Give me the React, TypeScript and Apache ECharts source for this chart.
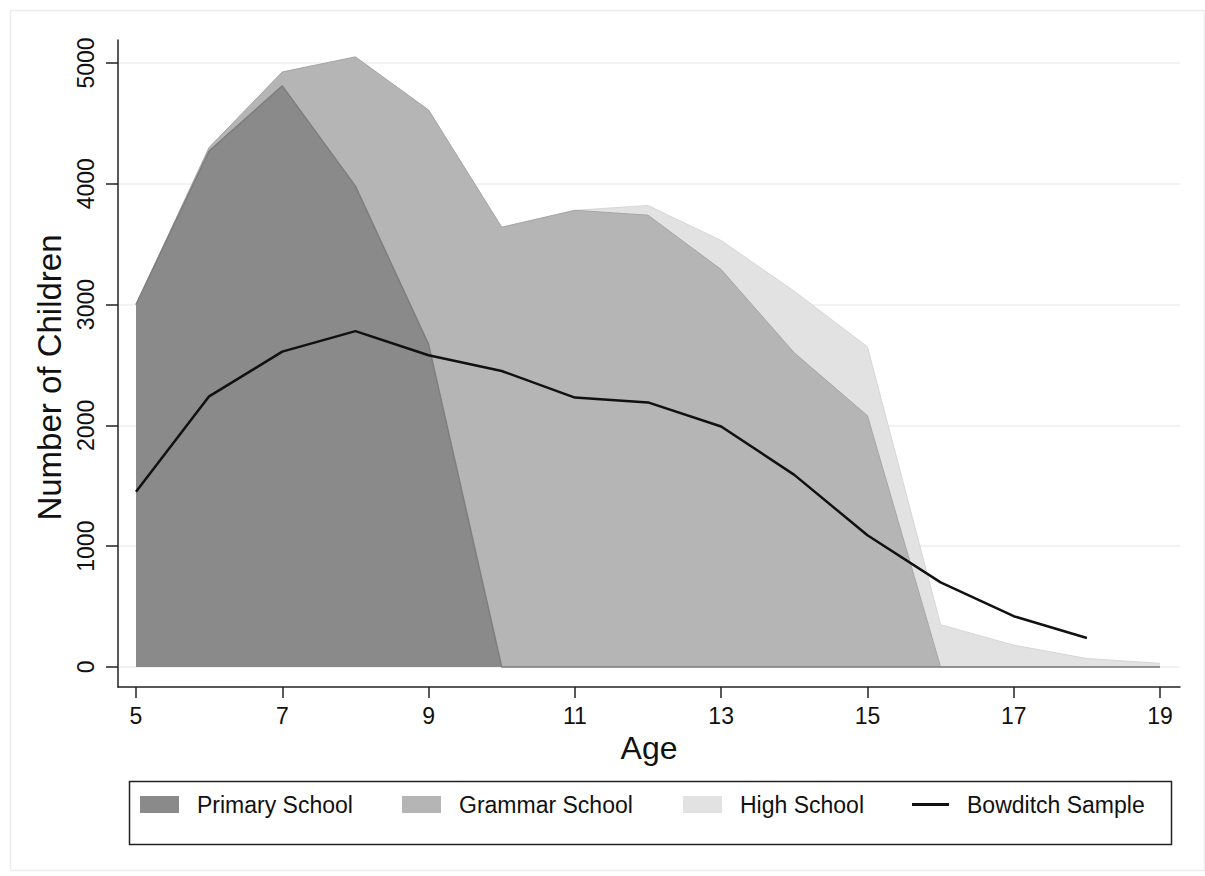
import React, { useEffect, useRef } from "react";
import * as echarts from "echarts";

const ages = [5, 6, 7, 8, 9, 10, 11, 12, 13, 14, 15, 16, 17, 18, 19];
const primarySchool = [3000, 4270, 4810, 3980, 2670, 0, 0, 0, 0, 0, 0, 0, 0, 0, 0];
const grammarSchool = [3000, 4300, 4925, 5050, 4610, 3640, 3780, 3740, 3290, 2600, 2080, 0, 0, 0, 0];
const highSchool = [3000, 4300, 4925, 5050, 4610, 3640, 3780, 3820, 3530, 3110, 2650, 350, 180, 70, 30];
const bowditchSample = [1450, 2240, 2610, 2780, 2580, 2450, 2230, 2190, 1990, 1590, 1090, 700, 420, 240, null];

const xTicks = [5, 7, 9, 11, 13, 15, 17, 19];
const yTicks = [0, 1000, 2000, 3000, 4000, 5000];

const FONT = "'Liberation Sans', Arial, Helvetica, sans-serif";

const pairs = (vals: (number | null)[]) =>
  ages.map((a, i) => [a, vals[i]]).filter((p) => p[1] !== null);

export default function App() {
  const ref = useRef<HTMLDivElement>(null);

  useEffect(() => {
    if (!ref.current) return;
    const chart = echarts.init(ref.current, undefined, { renderer: "svg" });

    const legendCommon = {
      orient: "horizontal",
      padding: 0,
      itemWidth: 39,
      itemHeight: 17,
      top: 793,
      selectedMode: false,
      textStyle: { fontSize: 23, color: "#111", fontFamily: FONT, padding: [0, 0, 0, 13] },
    };

    const option: any = {
      animation: false,
      backgroundColor: "#ffffff",
      textStyle: { fontFamily: FONT },
      grid: { left: 118, right: 25, top: 40, bottom: 189, containLabel: false },
      xAxis: {
        type: "value",
        min: 4.754,
        max: 19.273,
        name: "Age",
        nameLocation: "middle",
        nameGap: 42,
        nameTextStyle: { fontSize: 32, color: "#111", fontFamily: FONT },
        axisLine: { show: true, onZero: false, lineStyle: { color: "#222", width: 1.5 } },
        axisTick: { show: true, length: 11, customValues: xTicks, lineStyle: { color: "#222", width: 1.5 } },
        axisLabel: { customValues: xTicks, fontSize: 23, color: "#111", margin: 17, fontFamily: FONT },
        splitLine: { show: false },
      },
      yAxis: {
        type: "value",
        min: -166,
        max: 5190,
        name: "Number of Children",
        nameLocation: "middle",
        nameGap: 42,
        nameTextStyle: { fontSize: 33, color: "#111", fontFamily: FONT, padding: [0, 28, 0, 0] },
        axisLine: { show: true, onZero: false, lineStyle: { color: "#222", width: 1.5 } },
        axisTick: { show: true, length: 12, customValues: yTicks, lineStyle: { color: "#222", width: 1.5 } },
        axisLabel: {
          customValues: yTicks,
          rotate: 90,
          fontSize: 23,
          color: "#111",
          margin: 21,
          fontFamily: FONT,
          formatter: (v: number) => String(v),
        },
        splitLine: { show: false },
      },
      legend: [
        { ...legendCommon, left: 140, icon: "rect", data: ["Primary School"] },
        { ...legendCommon, left: 402, icon: "rect", data: ["Grammar School"] },
        { ...legendCommon, left: 683, icon: "rect", data: ["High School"] },
        {
          ...legendCommon,
          left: 912,
          itemWidth: 37,
          itemHeight: 3,
          icon: "rect",
          itemStyle: { color: "#111" },
          data: ["Bowditch Sample"],
        },
      ],
      graphic: [
        {
          type: "rect",
          left: 8,
          top: 8,
          shape: { width: 1194, height: 860 },
          style: { fill: "none", stroke: "#ececec", lineWidth: 1.5 },
          silent: true,
        },
        {
          type: "rect",
          left: 127,
          top: 779,
          shape: { width: 1042, height: 63 },
          style: { fill: "none", stroke: "#222", lineWidth: 1.5 },
          silent: true,
        },
      ],
      series: [
        {
          name: "grid",
          type: "line",
          data: [],
          z: 0,
          silent: true,
          markLine: {
            z: 0,
            silent: true,
            symbol: "none",
            label: { show: false },
            lineStyle: { color: "#ebeff0", width: 1.5, type: "solid" },
            data: yTicks.map((v) => ({ yAxis: v })),
          },
        },
        {
          name: "High School",
          type: "line",
          z: 1,
          data: pairs(highSchool),
          symbol: "none",
          color: "#e2e2e2",
          lineStyle: { color: "#d6d6d6", width: 1 },
          itemStyle: { color: "#e2e2e2", borderWidth: 0 },
          areaStyle: { color: "#e2e2e2", opacity: 1 },
        },
        {
          name: "Grammar School",
          type: "line",
          z: 2,
          data: pairs(grammarSchool),
          symbol: "none",
          color: "#b5b5b5",
          lineStyle: { color: "#a6a6a6", width: 1 },
          itemStyle: { color: "#b5b5b5", borderWidth: 0 },
          areaStyle: { color: "#b5b5b5", opacity: 1 },
        },
        {
          name: "Primary School",
          type: "line",
          z: 3,
          data: pairs(primarySchool),
          symbol: "none",
          color: "#8a8a8a",
          lineStyle: { color: "#7e7e7e", width: 1.5 },
          itemStyle: { color: "#8a8a8a", borderWidth: 0 },
          areaStyle: { color: "#8a8a8a", opacity: 1 },
        },
        {
          name: "Bowditch Sample",
          type: "line",
          z: 4,
          data: pairs(bowditchSample),
          symbol: "none",
          color: "#111",
          lineStyle: { color: "#111", width: 2.5 },
        },
      ],
    };

    chart.setOption(option);
    return () => chart.dispose();
  }, []);

  return (
    <div
      ref={ref}
      style={{ position: "absolute", left: 0, top: 0, width: 1205, height: 876, background: "#fff" }}
    />
  );
}
